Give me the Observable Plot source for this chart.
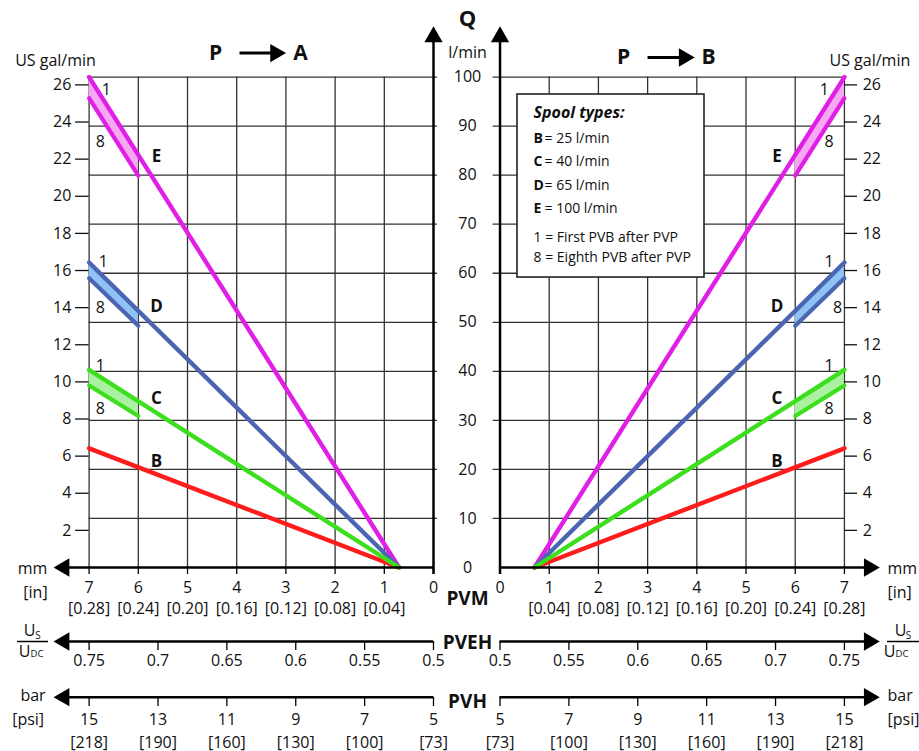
<!DOCTYPE html>
<html><head><meta charset="utf-8">
<script src="https://cdn.jsdelivr.net/npm/d3@7"></script>
<script src="https://cdn.jsdelivr.net/npm/@observablehq/plot@0.6"></script>
<style>body{margin:0;background:#fff}</style>
</head><body><div id="chart"></div>
<script>
// ---- data ----
const spools = ["B", "C", "D", "E"];
const lineColors = ["#ff1c1c", "#3cde1e", "#4c65b2", "#e01ee6"];
const bandColors = [null, "#aaf2a2", "#8fc2f5", "#f6a8f2"];
const startMm = 0.7;                       // flow starts at ~0.7 mm spool travel
const q1At7 = [24.3, 40.3, 62.2, 100];     // l/min at 7 mm, first PVB (1)
const q1At6 = [20.4, 33.9, 52.3, 84.1];    // l/min at 6 mm, first PVB (1)
const q8At7 = [null, 37.1, 59.0, 95.7];    // l/min at 7 mm, eighth PVB (8)
const q8At6 = [null, 30.9, 49.3, 79.9];    // l/min at 6 mm, eighth PVB (8)
const letterQ = [21.7, 34.5, 53.3, 83.7];
const oneQ = [null, 41.2, 62.4, 97.3];
const eightQ = [null, 32.3, 52.9, 86.7];
const oneMmLeft = [null, 6.77, 6.71, 6.65], eightMmLeft = [null, 6.77, 6.77, 6.77];
const oneMmRight = [null, 6.69, 6.69, 6.59], eightMmRight = [null, 6.69, 6.86, 6.69];

const mmTicks = [0, 1, 2, 3, 4, 5, 6, 7];
const inchLabels = ["", "[0.04]", "[0.08]", "[0.12]", "[0.16]", "[0.20]", "[0.24]", "[0.28]"];
const qTicks = [0, 10, 20, 30, 40, 50, 60, 70, 80, 90, 100];
const galTicks = [2, 4, 6, 8, 10, 12, 14, 16, 18, 20, 22, 24, 26];
const pvehTicks = [0.5, 0.55, 0.6, 0.65, 0.7, 0.75];
const pvehLabels = ["0.5", "0.55", "0.6", "0.65", "0.7", "0.75"];
const pvhTicks = [5, 7, 9, 11, 13, 15];
const psiLabels = ["[73]", "[100]", "[130]", "[160]", "[190]", "[218]"];
const legendTitle = "Spool types:";
const legendLetters = ["B", "C", "D", "E"];
const legendRates = ["= 25 l/min", "= 40 l/min", "= 65 l/min", "= 100 l/min"];
const legendNotes = ["1 = First PVB after PVP", "8 = Eighth PVB after PVP"];

// ---- layout helpers ----
const GAL = 3.785;          // l per US gal
const GAP = 1.352;          // gap between panels (mm units)
const left = m => -m, right = m => m + GAP;
const pvehMm = v => (v - 0.5) / 0.25 * 7;
const pvhMm = v => (v - 5) / 10 * 7;
const FONT = "'Open Sans', 'DejaVu Sans', sans-serif";
const GRID = {stroke: "#333", strokeWidth: 1.3};
const AX = {stroke: "#000", strokeWidth: 2.5};
const TXT = {fill: "#111", fontSize: 16};
const BOLD = {fill: "#111", fontWeight: "bold"};

const marks = [];

// grid
marks.push(
  Plot.ruleX(mmTicks.slice(1), {x: left, y1: 0, y2: 100, ...GRID}),
  Plot.ruleX(mmTicks.slice(1), {x: right, y1: 0, y2: 100, ...GRID}),
  Plot.ruleY(qTicks.slice(1), {y: q => q, x1: -7, x2: 0.08, ...GRID}),
  Plot.ruleY(qTicks.slice(1), {y: q => q, x1: GAP - 0.14, x2: GAP + 7, ...GRID})
);

// legend box
marks.push(
  Plot.rect([0], {x1: 1.707, x2: 5.508, y1: 59.13, y2: 96.45, fill: "white", stroke: "#222", strokeWidth: 1.6}),
  Plot.text([legendTitle], {x: 2.033, y: 92.78, text: d => d, textAnchor: "start", fontSize: 16, fontWeight: "bold", fontStyle: "italic", fill: "#111"}),
  Plot.text(legendLetters, {x: 2.033, y: (d, i) => [87.48, 82.79, 77.90, 73.21][i], text: d => d, textAnchor: "start", fontSize: 14, ...BOLD}),
  Plot.text(legendRates, {x: 2.256, y: (d, i) => [87.48, 82.79, 77.90, 73.21][i], text: d => d, textAnchor: "start", fontSize: 14, fill: "#111"}),
  Plot.text(legendNotes, {x: 2.033, y: (d, i) => [67.29, 63.21][i], text: d => d, textAnchor: "start", fontSize: 14, fill: "#111"})
);

// data: bands, eighth-PVB lines, first-PVB lines
for (const pos of [left, right]) {
  spools.forEach((s, i) => {
    if (q8At7[i] == null) return;
    marks.push(Plot.areaY([
      {x: pos(6), y1: q8At6[i], y2: q1At6[i]},
      {x: pos(7), y1: q8At7[i], y2: q1At7[i]}
    ], {x: "x", y1: "y1", y2: "y2", fill: bandColors[i]}));
  });
}
for (const pos of [left, right]) {
  spools.forEach((s, i) => {
    if (q8At7[i] == null) return;
    marks.push(Plot.line([{x: pos(7), y: q8At7[i]}, {x: pos(6), y: q8At6[i]}],
      {x: "x", y: "y", stroke: lineColors[i], strokeWidth: 4.2, strokeLinecap: "round"}));
  });
}
for (const pos of [left, right]) {
  for (const i of [3, 2, 0, 1]) {
    marks.push(Plot.line([{x: pos(startMm), y: 0}, {x: pos(7), y: q1At7[i]}],
      {x: "x", y: "y", stroke: lineColors[i], strokeWidth: 4.4, strokeLinecap: "round"}));
  }
}

// line labels
marks.push(
  Plot.text(spools, {x: left(5.63), y: (d, i) => letterQ[i], text: d => d, fontSize: 17, ...BOLD}),
  Plot.text(spools, {x: right(5.63), y: (d, i) => letterQ[i], text: d => d, fontSize: 17, ...BOLD}),
  Plot.text(spools.slice(1), {x: (d, i) => left(oneMmLeft[i + 1]), y: (d, i) => oneQ[i + 1], text: () => "1", ...TXT}),
  Plot.text(spools.slice(1), {x: (d, i) => left(eightMmLeft[i + 1]), y: (d, i) => eightQ[i + 1], text: () => "8", ...TXT}),
  Plot.text(spools.slice(1), {x: (d, i) => right(oneMmRight[i + 1]), y: (d, i) => oneQ[i + 1], text: () => "1", ...TXT}),
  Plot.text(spools.slice(1), {x: (d, i) => right(eightMmRight[i + 1]), y: (d, i) => eightQ[i + 1], text: () => "8", ...TXT})
);

// vertical axes and Q labels
marks.push(
  Plot.ruleX([0, GAP], {x: d => d, y1: -1.43, y2: 108, ...AX}),
  Plot.text(qTicks, {x: 0.691, y: q => q, text: String, ...TXT}),
  Plot.text(["Q"], {x: 0.691, y: 111.95, text: d => d, fontSize: 22, ...BOLD}),
  Plot.text(["l/min"], {x: 0.691, y: 105.0, text: d => d, ...TXT})
);

// gal axes
marks.push(
  Plot.ruleY(galTicks, {y: g => g * GAL, x1: -7.276, x2: -7, stroke: "#111", strokeWidth: 1.3}),
  Plot.ruleY(galTicks, {y: g => g * GAL, x1: GAP + 7, x2: GAP + 7.266, stroke: "#111", strokeWidth: 1.3}),
  Plot.text(galTicks, {x: -7.36, y: g => g * GAL, text: String, textAnchor: "end", ...TXT}),
  Plot.text(galTicks, {x: GAP + 7.37, y: g => g * GAL, text: String, textAnchor: "start", ...TXT}),
  Plot.text(["US gal/min"], {x: -7.683, y: 103.4, text: d => d, ...TXT}),
  Plot.text(["US gal/min"], {x: 8.049, y: 103.4, text: d => d, textAnchor: "start", ...TXT})
);

// titles
marks.push(
  Plot.text(["P"], {x: -4.431, y: 104.9, text: d => d, fontSize: 21, ...BOLD}),
  Plot.text(["A"], {x: -2.703, y: 104.9, text: d => d, fontSize: 21, ...BOLD}),
  Plot.text(["P"], {x: 3.862, y: 104.0, text: d => d, fontSize: 21, ...BOLD}),
  Plot.text(["B"], {x: 5.589, y: 104.0, text: d => d, fontSize: 21, ...BOLD}),
  Plot.link([{x1: -3.943, x2: -3.25, y: 104.9}, {x1: 4.35, x2: 5.05, y: 104.0}],
    {x1: "x1", x2: "x2", y1: "y", y2: "y", stroke: "#000", strokeWidth: 3})
);

// mm axis (PVM)
marks.push(
  Plot.ruleY([0], {y: d => d, x1: -7.5, x2: 0, ...AX}),
  Plot.ruleY([0], {y: d => d, x1: GAP, x2: 8.856, ...AX}),
  Plot.ruleX(mmTicks, {x: left, y1: -1.43, y2: 0, stroke: "#000", strokeWidth: 1.3}),
  Plot.ruleX(mmTicks, {x: right, y1: -1.43, y2: 0, stroke: "#000", strokeWidth: 1.3}),
  Plot.text(mmTicks, {x: left, y: -4.08, text: String, ...TXT}),
  Plot.text(mmTicks, {x: right, y: -4.08, text: String, ...TXT}),
  Plot.text(mmTicks.slice(1), {x: left, y: -8.36, text: m => inchLabels[m], ...TXT}),
  Plot.text(mmTicks.slice(1), {x: right, y: -8.36, text: m => inchLabels[m], ...TXT}),
  Plot.text(["PVM"], {x: 0.691, y: -6.32, text: d => d, fontSize: 19, ...BOLD}),
  Plot.text(["mm"], {x: -8.15, y: -0.2, text: d => d, ...TXT}),
  Plot.text(["[in]"], {x: -8.09, y: -5.1, text: d => d, ...TXT}),
  Plot.text(["mm"], {x: 9.228, y: -0.2, text: d => d, textAnchor: "start", ...TXT}),
  Plot.text(["[in]"], {x: 9.228, y: -5.1, text: d => d, textAnchor: "start", ...TXT})
);

// PVEH axis
marks.push(
  Plot.ruleY([-15.09], {y: d => d, x1: -7.5, x2: -pvehMm(0.5), ...AX}),
  Plot.ruleY([-15.09], {y: d => d, x1: right(pvehMm(0.5)), x2: 8.856, ...AX}),
  Plot.ruleX(pvehTicks, {x: v => left(pvehMm(v)), y1: -16.92, y2: -15.09, stroke: "#000", strokeWidth: 1.3}),
  Plot.ruleX(pvehTicks, {x: v => right(pvehMm(v)), y1: -16.92, y2: -15.09, stroke: "#000", strokeWidth: 1.3}),
  Plot.text(pvehTicks, {x: v => left(pvehMm(v)), y: -18.96, text: (v, i) => pvehLabels[i], ...TXT}),
  Plot.text(pvehTicks, {x: v => right(pvehMm(v)), y: -18.96, text: (v, i) => pvehLabels[i], ...TXT}),
  Plot.text(["PVEH"], {x: 0.691, y: -15.29, text: d => d, fontSize: 19, ...BOLD}),
  // Us / UDC fractions
  Plot.text(["U", "U"], {x: (d, i) => [-8.211, 9.492][i], y: -12.85, text: d => d, fontSize: 16, fill: "#111"}),
  Plot.text(["S", "S"], {x: (d, i) => [-8.039, 9.654][i], y: -13.87, text: d => d, fontSize: 10, fill: "#111"}),
  Plot.text(["U", "U"], {x: (d, i) => [-8.313, 9.268][i], y: -17.13, text: d => d, fontSize: 16, fill: "#111"}),
  Plot.text(["DC", "DC"], {x: (d, i) => [-8.059, 9.522][i], y: -17.64, text: d => d, fontSize: 9.5, fill: "#111"}),
  Plot.ruleY([0, 1], {y: -15.09, x1: (d, i) => [-8.455, 9.228][i], x2: (d, i) => [-7.825, 9.878][i], stroke: "#000", strokeWidth: 1.5})
);

// PVH axis
marks.push(
  Plot.ruleY([-26.45], {y: d => d, x1: -7.5, x2: -pvhMm(5), ...AX}),
  Plot.ruleY([-26.45], {y: d => d, x1: right(pvhMm(5)), x2: 8.856, ...AX}),
  Plot.ruleX(pvhTicks, {x: v => left(pvhMm(v)), y1: -28.35, y2: -26.45, stroke: "#000", strokeWidth: 1.3}),
  Plot.ruleX(pvhTicks, {x: v => right(pvhMm(v)), y1: -28.35, y2: -26.45, stroke: "#000", strokeWidth: 1.3}),
  Plot.text(pvhTicks, {x: v => left(pvhMm(v)), y: -31.0, text: String, ...TXT}),
  Plot.text(pvhTicks, {x: v => right(pvhMm(v)), y: -31.0, text: String, ...TXT}),
  Plot.text(pvhTicks, {x: v => left(pvhMm(v)), y: -35.69, text: (v, i) => psiLabels[i], ...TXT}),
  Plot.text(pvhTicks, {x: v => right(pvhMm(v)), y: -35.69, text: (v, i) => psiLabels[i], ...TXT}),
  Plot.text(["PVH"], {x: 0.691, y: -27.5, text: d => d, fontSize: 19, ...BOLD}),
  Plot.text(["bar"], {x: -8.14, y: -26.1, text: d => d, ...TXT}),
  Plot.text(["[psi]"], {x: -8.24, y: -31.0, text: d => d, ...TXT}),
  Plot.text(["bar"], {x: 9.228, y: -26.1, text: d => d, textAnchor: "start", ...TXT}),
  Plot.text(["[psi]"], {x: 9.228, y: -31.0, text: d => d, textAnchor: "start", ...TXT})
);

// arrow heads
const arrowHeads = [
  {x: 0, y: 108.2, r: 0}, {x: GAP, y: 108.2, r: 0},
  {x: -7.508, y: 0, r: -90}, {x: 8.856, y: 0, r: 90},
  {x: -7.508, y: -15.09, r: -90}, {x: 8.856, y: -15.09, r: 90},
  {x: -7.508, y: -26.45, r: -90}, {x: 8.856, y: -26.45, r: 90},
  {x: -3.211, y: 104.9, r: 90}, {x: 5.095, y: 104.0, r: 90}
];
marks.push(Plot.dot(arrowHeads, {x: "x", y: "y", rotate: "r", symbol: "triangle", r: 6.8, fill: "#000", stroke: "none"}));

const chart = Plot.plot({
  width: 919, height: 751, margin: 0,
  x: {domain: [-8.801, 9.878], axis: null},
  y: {domain: [-37.52, 115.62], axis: null},
  style: {fontFamily: FONT, fontSize: "16px", background: "white", overflow: "visible"},
  marks
});
document.getElementById("chart").appendChild(chart);
</script></body></html>
